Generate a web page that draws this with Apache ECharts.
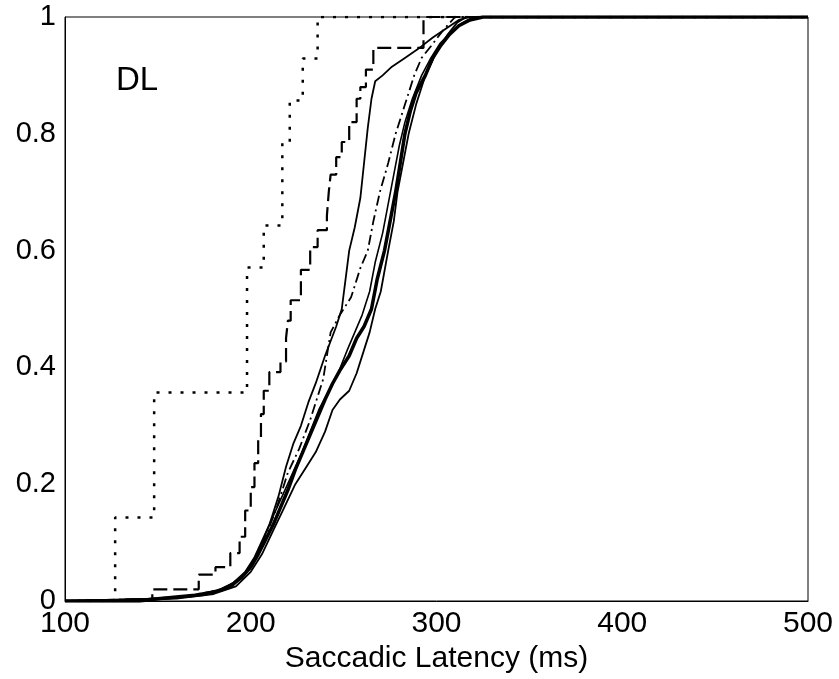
<!DOCTYPE html>
<html>
<head>
<meta charset="utf-8">
<script src="https://cdn.jsdelivr.net/npm/echarts@6/dist/echarts.min.js"></script>
<style>
html,body{margin:0;padding:0;background:#fff;}
#chart{width:839px;height:679px;}
</style>
</head>
<body>
<div id="chart"></div>
<script>
var xTicks = [100, 200, 300, 400, 500];
var yTicks = [0, 0.2, 0.4, 0.6, 0.8, 1];

var dotted = [[100,0],[127,0.143],[148,0.357],[198,0.571],[207,0.643],[217,0.786],[221,0.857],[228,0.929],[236,1],[500,1]];

var dashed = [[100,0],[147,0.02],[172,0.045],[181,0.058],[189,0.082],[194,0.11],[197,0.155],[200,0.195],[202,0.236],[204,0.28],[205.5,0.32],[207,0.36],[210,0.392],[216,0.41],[219,0.45],[220,0.48],[221.5,0.515],[227,0.567],[232,0.606],[236,0.635],[241,0.66],[242,0.7],[243,0.73],[246,0.76],[249,0.786],[253,0.82],[257,0.86],[259,0.88],[262,0.91],[266,0.947],[293,1],[500,1]];

var dashDot = [[100,0],[160,0.005],[185,0.02],[195,0.04],[202,0.07],[208,0.11],[214,0.16],[220,0.22],[226,0.26],[232,0.31],[236,0.35],[239,0.38],[243,0.46],[248,0.49],[254,0.52],[259,0.57],[263,0.6],[266,0.65],[269.5,0.7],[274,0.75],[278,0.8],[283,0.85],[288,0.9],[292,0.93],[297,0.95],[303,0.975],[310,1],[500,1]];

var thinA = [[100,0],[150,0.003],[175,0.01],[190,0.025],[198,0.05],[204,0.085],[210,0.13],[215,0.18],[219,0.23],[223,0.27],[227,0.3],[231,0.34],[235,0.373],[240,0.42],[246,0.47],[249,0.5],[251,0.55],[253,0.6],[256,0.64],[259,0.69],[261,0.75],[263,0.81],[265,0.86],[267,0.89],[271,0.9],[276,0.915],[283,0.93],[290,0.945],[298,0.965],[305,0.98],[312,0.995],[318,1],[500,1]];

var thinB = [[100,0],[160,0.004],[180,0.012],[192,0.025],[200,0.05],[206,0.08],[212,0.12],[218,0.16],[224,0.2],[230,0.23],[235,0.255],[240,0.29],[244,0.327],[248,0.345],[253,0.36],[257,0.39],[261,0.43],[264,0.46],[267,0.5],[270,0.53],[274,0.6],[277,0.65],[279,0.7],[282,0.75],[285,0.8],[289,0.85],[294,0.9],[300,0.94],[306,0.97],[311,0.99],[316,1],[500,1]];

var thinC = [[100,0],[145,0.004],[165,0.008],[180,0.015],[190,0.03],[197,0.05],[202,0.075],[207,0.11],[212,0.145],[217,0.18],[222,0.215],[227,0.25],[232,0.29],[237,0.33],[242,0.36],[247,0.39],[252,0.43],[256,0.46],[260,0.49],[264,0.53],[267,0.58],[271,0.63],[274,0.68],[277,0.73],[280,0.78],[283,0.82],[287,0.86],[292,0.9],[297,0.93],[302,0.955],[308,0.975],[314,0.99],[320,1],[500,1]];

var thick = [[100,0],[140,0],[150,0.004],[160,0.007],[170,0.01],[178,0.014],[185,0.02],[190,0.028],[195,0.04],[200,0.058],[204,0.08],[208,0.105],[212,0.13],[216,0.16],[220,0.19],[224,0.225],[228,0.255],[232,0.285],[236,0.315],[240,0.345],[244,0.372],[248,0.395],[253,0.42],[257,0.45],[261,0.47],[265,0.5],[268,0.55],[272,0.6],[275,0.65],[278,0.7],[280.5,0.75],[283,0.8],[286,0.84],[289,0.87],[294,0.9],[298,0.93],[302,0.95],[307,0.97],[312,0.985],[318,0.995],[325,1],[500,1]];

var FONT = '"Liberation Sans", Arial, sans-serif';

function ser(data, width, type, step) {
  return {
    type: 'line', data: data, showSymbol: false, symbol: 'none',
    step: step ? 'end' : false, animation: false, silent: true,
    lineStyle: { color: '#000', width: width, type: type, cap: 'butt' }
  };
}

var chart = echarts.init(document.getElementById('chart'), null, {renderer: 'canvas'});
chart.setOption({
  backgroundColor: '#fff',
  animation: false,
  grid: { left: 65, right: 31, top: 17, bottom: 78, show: true, borderColor: '#000', borderWidth: 1, backgroundColor: 'transparent' },
  xAxis: {
    type: 'value', min: xTicks[0], max: xTicks[xTicks.length - 1], interval: 100,
    name: 'Saccadic Latency (ms)', nameLocation: 'middle', nameGap: 43,
    nameTextStyle: { color: '#000', fontSize: 30, fontFamily: FONT },
    axisLine: { show: true, lineStyle: { color: '#000', width: 1 } },
    axisTick: { show: false },
    splitLine: { show: false },
    axisLabel: { color: '#000', fontSize: 30, fontFamily: FONT, margin: 8 }
  },
  yAxis: {
    type: 'value', min: yTicks[0], max: yTicks[yTicks.length - 1], interval: 0.2,
    axisLine: { show: true, lineStyle: { color: '#000', width: 1 } },
    axisTick: { show: false },
    splitLine: { show: false },
    axisLabel: { color: '#000', fontSize: 29, fontFamily: FONT, margin: 9 }
  },
  graphic: [{
    type: 'text', left: 116, top: 64,
    style: { text: 'DL', fontSize: 33, fontFamily: FONT, fill: '#000' }
  }],
  series: [
    ser(dotted, 2.5, [3, 9], true),
    ser(dashed, 2.2, [14, 6], true),
    ser(dashDot, 1.8, [10, 4, 2, 4], false),
    ser(thinA, 1.8, 'solid', false),
    ser(thinB, 1.8, 'solid', false),
    ser(thinC, 1.6, 'solid', false),
    ser(thick, 3.5, 'solid', false)
  ]
});
</script>
</body>
</html>
